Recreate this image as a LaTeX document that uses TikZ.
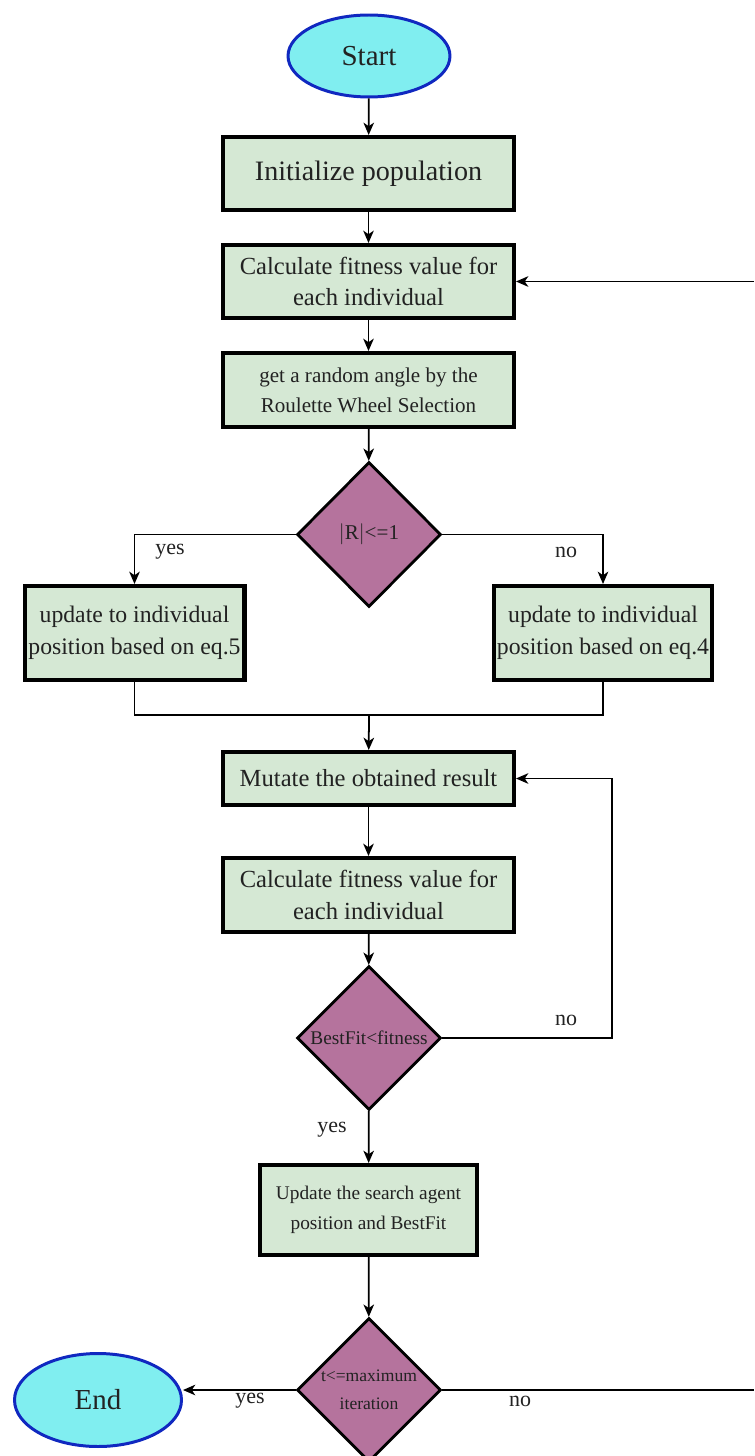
\documentclass[tikz,border=0pt]{standalone}
\usepackage{fontspec}
\setmainfont{Liberation Serif}
\usetikzlibrary{shapes.geometric,arrows.meta}

\definecolor{boxfill}{HTML}{D5E8D4}
\definecolor{decfill}{HTML}{B5739D}
\definecolor{termfill}{HTML}{80EEF0}
\definecolor{termline}{HTML}{1028C0}
\definecolor{txt}{HTML}{222222}

\tikzset{
  procbox/.style={draw=black, line width=2.3pt, fill=boxfill, rectangle,
    align=center, inner sep=0pt, text=txt, font=\fontsize{14}{18}\selectfont},
  decision/.style={draw=black, line width=1.6pt, fill=decfill, diamond,
    inner sep=0pt, align=center, text=txt, font=\fontsize{11}{14}\selectfont},
  terminal/.style={draw=termline, line width=1.7pt, fill=termfill, ellipse,
    inner sep=0pt, text=txt, font=\fontsize{16.5}{20}\selectfont},
  flow/.style={draw=black, line width=1pt, -{Stealth[length=7pt,width=6pt,inset=2pt]}},
  link/.style={draw=black, line width=1pt},
  lbl/.style={text=txt, font=\fontsize{12.5}{15}\selectfont, inner sep=0pt}
}

\begin{document}
\begin{tikzpicture}[x=0.02cm, y=-0.02cm]
\useasboundingbox (0,0) rectangle (754,1456);
\clip (0,0) rectangle (754,1456);

% terminals
\node[terminal, minimum width=3.24cm, minimum height=1.64cm] (start) at (369,56) {Start};
\node[terminal, minimum width=3.34cm, minimum height=1.86cm] (end) at (98,1400) {End};

% process boxes
\node[procbox, minimum width=5.82cm, minimum height=1.46cm, font=\fontsize{16}{20}\selectfont] (init) at (368.5,173.5) {Initialize population};
\node[procbox, minimum width=5.82cm, minimum height=1.46cm] (calc1) at (368.5,281.5) {Calculate fitness value for\\each individual};
\node[procbox, minimum width=5.82cm, minimum height=1.48cm, font=\fontsize{12}{17}\selectfont] (roul) at (368.5,390) {get a random angle by the\\Roulette Wheel Selection};
\node[procbox, minimum width=4.4cm, minimum height=1.88cm, font=\fontsize{13.5}{18}\selectfont] (upd5) at (134.5,633) {update to individual\\position based on eq.5};
\node[procbox, minimum width=4.36cm, minimum height=1.88cm, font=\fontsize{13.5}{18}\selectfont] (upd4) at (603,633) {update to individual\\position based on eq.4};
\node[procbox, minimum width=5.82cm, minimum height=1.06cm] (mut) at (368.5,778.5) {Mutate the obtained result};
\node[procbox, minimum width=5.82cm, minimum height=1.48cm] (calc2) at (368.5,895) {Calculate fitness value for\\each individual};
\node[procbox, minimum width=4.34cm, minimum height=1.8cm, font=\fontsize{11}{17}\selectfont] (best) at (368.5,1210) {Update the search agent\\position and BestFit};

% decisions
\node[decision, minimum width=2.88cm, minimum height=2.9cm, font=\fontsize{12}{14}\selectfont] (d1) at (369,534.5) {$|$R$|$<=1};
\node[decision, minimum width=2.88cm, minimum height=2.88cm] (d2) at (369,1038) {BestFit<fitness};
\node[decision, minimum width=2.88cm, minimum height=2.88cm, font=\fontsize{10}{16}\selectfont] (d3) at (369,1390) {t<=maximum\\iteration};

% free ends of the outer loop at the right border
\coordinate (loopin) at (754,281.5);
\coordinate (loopout) at (754,1390);
\coordinate (join) at (369,715);

% main column
\draw[flow] (start) -- (init);
\draw[flow] (init) -- (calc1);
\draw[flow] (calc1) -- (roul);
\draw[flow] (roul) -- (d1);

% branch on |R|
\draw[flow] (d1.west) -| (upd5.north);
\draw[flow] (d1.east) -| (upd4.north);
\node[lbl] at (170,552) {yes};
\node[lbl] at (566,552) {no};

% merge
\draw[link] (upd5.south) |- (join);
\draw[link] (upd4.south) |- (join);
\draw[flow] (join) -- (mut);

\draw[flow] (mut) -- (calc2);
\draw[flow] (calc2) -- (d2);

% inner loop
\draw[flow] (d2.east) -- (612,1038) |- (mut.east);
\node[lbl] at (566,1020) {no};
\draw[flow] (d2) -- (best);
\node[lbl] at (332,1130) {yes};

\draw[flow] (best) -- (d3);

% termination test
\draw[flow] (d3.west) -- (end.east |- d3.west);
\node[lbl] at (250,1401) {yes};
\draw[link] (d3.east) -- (loopout);
\node[lbl] at (520,1401) {no};
\draw[flow] (loopin) -- (calc1.east);
\end{tikzpicture}
\end{document}
